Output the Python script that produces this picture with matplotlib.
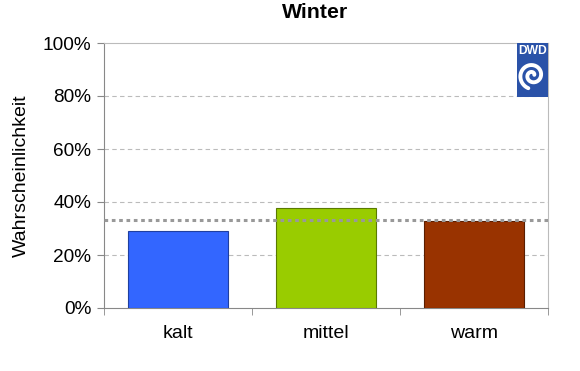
import numpy as np
import matplotlib
matplotlib.use("Agg")
import matplotlib.pyplot as plt
from matplotlib.patches import Rectangle

categories = ["kalt", "mittel", "warm"]
values = [29.0, 37.6, 33.0]
climatology = 33.3
colors = ["#3366FF", "#99CC00", "#993300"]
edgecolors = ["#1f3fa0", "#5a7a00", "#5a1e00"]
yticks = [0, 20, 40, 60, 80, 100]
ytick_labels = ["0%", "20%", "40%", "60%", "80%", "100%"]

fig = plt.figure(figsize=(5.8, 3.71), dpi=100)
W, H = 580, 371
l, r, t, b = 104, 548, 43, 308
ax = fig.add_axes([l / W, 1 - b / H, (r - l) / W, (b - t) / H])

x = np.arange(len(categories))
ax.bar(x, values, width=0.67, color=colors, edgecolor=edgecolors, linewidth=0.8, zorder=3)
ax.set_xlim(-0.5, len(categories) - 0.5)
ax.set_ylim(0, 100)

for yv in yticks[1:-1]:
    ax.axhline(yv, color="#bbbbbb", linestyle=(0, (4, 3)), linewidth=0.8, zorder=1)
ax.axhline(climatology, color="#999999", linestyle=(0, (1.2, 1.2)), linewidth=2.2, zorder=4)

ax.set_yticks(yticks)
ax.set_yticklabels(ytick_labels, fontsize=13.7, family="Liberation Sans")
ax.set_xticks(x)
ax.set_xticklabels(categories, fontsize=14, family="Liberation Sans")
ax.tick_params(axis="x", length=0, pad=12)
ax.set_xticks(np.arange(-0.5, len(categories)), minor=True)
ax.tick_params(axis="x", which="minor", length=5, color="#888888", direction="out")
ax.tick_params(axis="y", length=5, color="#888888", direction="out", pad=4)

for s in ["left", "bottom"]:
    ax.spines[s].set_color("#888888")
for s in ["top", "right"]:
    ax.spines[s].set_color("#bbbbbb")

ax.set_ylabel("Wahrscheinlichkeit", fontsize=14, family="Liberation Sans", labelpad=9)
fig.text(315 / W, 1 - 13 / H, "Winter", fontsize=15.3, fontweight="bold",
         family="Liberation Sans", ha="center", va="center")

# DWD logo
lx0, lx1, ly0, ly1 = 517, 548, 43, 97
lax = fig.add_axes([lx0 / W, 1 - ly1 / H, (lx1 - lx0) / W, (ly1 - ly0) / H])
lax.set_xlim(0, 1)
lax.set_ylim(0, 1)
lax.axis("off")
lax.add_patch(Rectangle((0, 0), 1, 1, color="#2a52a8", transform=lax.transAxes))
lax.text(0.5, 0.85, "DWD", color="white", fontsize=8.7, fontweight="bold",
         ha="center", va="center", family="Liberation Sans")
th = np.linspace(0.3, 3.4 * np.pi, 250)
rr = 0.05 + 0.036 * th
lax.plot(0.5 + rr * np.cos(th), 0.40 + rr * np.sin(th) * 0.574, color="white", linewidth=2.8,
         solid_capstyle="round")

fig.savefig("out.png", dpi=100)
